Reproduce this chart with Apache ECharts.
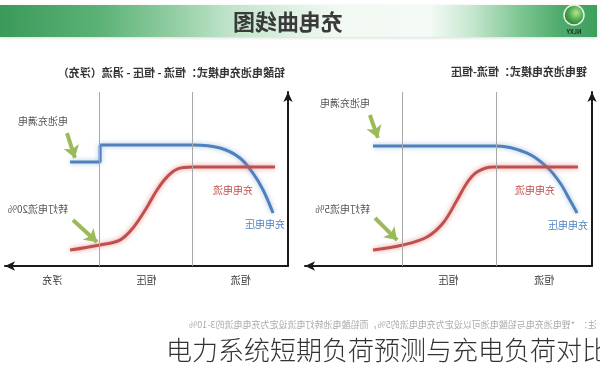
<!DOCTYPE html>
<html><head><meta charset="utf-8">
<script src="https://cdn.jsdelivr.net/npm/echarts@6/dist/echarts.min.js"></script>
<style>
html,body{margin:0;padding:0;background:#fff;}
#wrap{position:relative;width:600px;height:366px;overflow:hidden;background:#fff;}
#main{position:absolute;left:0;top:0;width:600px;height:366px;transform:scaleX(-1);}
#cap{position:absolute;left:0;top:0;width:600px;height:366px;pointer-events:none;}
</style></head><body>
<div id="wrap"><div id="main"></div><div id="cap"></div></div>
<script>
// ---- data (the reference picture is a horizontally mirrored slide) ----
const bannerTitle = '充电曲线图';
const logoText = 'NLXY';
const titleA = '铅酸电池充电模式：恒流 - 恒压 - 涓流（浮充）';
const titleB = '锂电池充电模式：恒流-恒压';
const phaseLabelsA = ['恒流', '恒压', '浮充'];
const phaseLabelsB = ['恒流', '恒压', ''];
const phaseBoundsA = [33.6, 66.4];
const phaseBoundsB = [33.1, 65.9];
// lead-acid (x: time 0-100, y: level 0-100)
const voltageA = [[5.3,30.5],[8.8,43.7],[12.4,53.4],[17.0,62.1],[24.0,67.8],[33.6,69.5],[66.4,69.5]];
const voltageFloatA = [[66.4,69.5],[66.4,59.8],[77.0,59.8]];
const currentA = [[4.6,56.9],[33.6,56.9],[39.2,55.7],[42.8,51.1],[46.3,43.7],[49.8,33.9],[54.8,21.8],[59.4,14.9],[66.4,12.1],[77.0,9.2]];
// lithium
const voltageB = [[5.2,30.5],[7.7,37.9],[11.1,47.7],[15.7,56.9],[22.6,64.9],[33.1,69.0],[76.3,69.0]];
const currentB = [[4.9,56.9],[34.5,56.9],[40.1,54.0],[43.6,47.7],[47.0,37.9],[51.9,24.7],[57.5,16.7],[65.9,12.1],[76.3,9.2]];
// annotation arrows (data coordinates)
const arrowsA = [[[78.1,76.4],[75.3,62.1]], [[76.0,26.4],[67.5,13.8]]];
const arrowsB = [[[77.4,86.8],[74.6,73.6]], [[75.6,27.6],[67.9,14.9]]];
const labelFullA = '电池充满电', labelTurnA = '转灯电流20%';
const labelFullB = '电池充满电', labelTurnB = '转灯电流5%';
const labelCurrent = '充电电流', labelVoltage = '充电电压';
const footnote = '注：  *锂电池充电与铅酸电池可以设定为充电电流的5%，而铅酸电池转灯电流设定为充电电流的3-10%';
const caption = '电力系统短期负荷预测与充电负荷对比';

const BLUE = '#4f81bd', RED = '#c0504d', GREEN = '#9bbb59';
const FONT = '"Noto Sans CJK SC","Noto Sans",sans-serif';

function valueX(grid){
  return {type:'value', gridIndex:grid, min:0, max:100,
    axisLine:{show:true, symbol:['none','arrow'], symbolSize:[7,10], lineStyle:{color:'#1a1a1a', width:2}},
    axisTick:{show:false}, axisLabel:{show:false}, splitLine:{show:false}};
}
function catX(grid, cats){
  return {type:'category', gridIndex:grid, data:cats, position:'bottom', boundaryGap:true,
    axisLine:{show:false}, axisTick:{show:false}, splitLine:{show:false},
    axisLabel:{show:true, margin:9, fontSize:10, color:'#333', fontFamily:FONT}};
}
function valueY(grid){
  return {type:'value', gridIndex:grid, min:0, max:100,
    axisLine:{show:true, symbol:['none','arrow'], symbolSize:[7,10], lineStyle:{color:'#1a1a1a', width:2}},
    axisTick:{show:false}, axisLabel:{show:false}, splitLine:{show:false}};
}
function phaseLines(bounds){
  return {silent:true, symbol:['none','none'], label:{show:false},
    lineStyle:{color:'#a8a8a8', width:1, type:'solid'},
    data: bounds.map(b => ({xAxis:b}))};
}
function arrowLines(arr){
  return {silent:true, symbol:['none','arrow'], symbolSize:12, label:{show:false},
    lineStyle:{color:GREEN, width:4, type:'solid'},
    data: arr.map(a => [{coord:a[0]},{coord:a[1]}])};
}
function line(data, xi, yi, color, smooth, extra){
  return Object.assign({type:'line', data:data, xAxisIndex:xi, yAxisIndex:yi,
    smooth:smooth ? 0.35 : false, symbol:'none', silent:true,
    lineStyle:{color:color, width:3, shadowBlur:5, shadowColor: color===RED ? 'rgba(220,110,110,0.75)' : 'rgba(79,129,189,0.5)'},
    z:3}, extra || {});
}
function txt(x, y, text, size, color, opts){
  return {type:'text', x:x, y:y, silent:true,
    style:{text:text, fill:color, font:(opts && opts.weight ? opts.weight+' ' : '') + size + 'px ' + FONT,
      textAlign:(opts && opts.align) || 'left', textVerticalAlign:'middle'}};
}

const chart = echarts.init(document.getElementById('main'), null, {renderer:'canvas'});
chart.setOption({
  animation:false,
  backgroundColor:'#ffffff',
  grid:[
    {left:8, top:92, width:287, height:174},
    {left:312, top:92, width:283, height:174}
  ],
  xAxis:[valueX(0), catX(0, phaseLabelsB), valueX(1), catX(1, phaseLabelsA)],
  yAxis:[valueY(0), valueY(1)],
  series:[
    line(voltageB, 0, 0, BLUE, true, {markLine:phaseLines(phaseBoundsB)}),
    line(currentB, 0, 0, RED, true, {markLine:arrowLines(arrowsB)}),
    line(voltageA, 2, 1, BLUE, true, {markLine:phaseLines(phaseBoundsA)}),
    line(voltageFloatA, 2, 1, BLUE, false),
    line(currentA, 2, 1, RED, true, {markLine:arrowLines(arrowsA)})
  ],
  graphic:[
    {type:'rect', shape:{x:3, y:5, width:597, height:32}, silent:true, z:0,
      style:{fill:new echarts.graphic.LinearGradient(0,0,1,0,[
        {offset:0, color:'#3d9f5e'},{offset:0.062, color:'#4fab6c'},{offset:0.129, color:'#7ec693'},
        {offset:0.213, color:'#c8e8d0'},{offset:0.28, color:'#f4faf5'},{offset:0.43, color:'#f2f9f3'},
        {offset:0.497, color:'#e2f3e6'},{offset:0.615, color:'#c0e4ca'},{offset:0.715, color:'#8fcca0'},
        {offset:0.832, color:'#5cb277'},{offset:1, color:'#3a9a5a'}]),
        shadowBlur:3, shadowColor:'rgba(0,0,0,0.15)', shadowOffsetY:1}},
    {type:'circle', shape:{cx:26, cy:15, r:10}, silent:true,
      style:{fill:new echarts.graphic.RadialGradient(0.4,0.4,0.7,[
        {offset:0, color:'#b4e58f'},{offset:0.5, color:'#4aa84a'},{offset:1, color:'#1d6e2e'}]),
        stroke:'#e6f2e6', lineWidth:1.5}},
    txt(26, 32, logoText, 6, '#2a2a2a', {weight:'bold', align:'center'}),
    txt(312, 22, bannerTitle, 22, '#3a3a3a', {weight:'bold', align:'center'}),
    txt(315, 73, titleA, 11, '#333', {weight:'bold'}),
    txt(13, 72, titleB, 11, '#333', {weight:'bold'}),
    txt(532, 121, labelFullA, 10, '#555'),
    txt(532, 209, labelTurnA, 10, '#555'),
    txt(347, 190, labelCurrent, 10, RED),
    txt(315, 224, labelVoltage, 10, BLUE),
    txt(230, 103, labelFullB, 10, '#555'),
    txt(230, 209, labelTurnB, 10, '#555'),
    txt(45, 190, labelCurrent, 10, RED),
    txt(12, 225, labelVoltage, 10, BLUE),
    txt(3, 325, footnote, 9, '#aaa')
  ]
});

const cap = echarts.init(document.getElementById('cap'), null, {renderer:'canvas'});
cap.setOption({
  animation:false,
  backgroundColor:'transparent',
  graphic:[{type:'text', x:166, y:350, silent:true,
    style:{text:caption, fill:'#333', font:'300 26px ' + FONT, textAlign:'left', textVerticalAlign:'middle'}}]
});
</script>
</body></html>
